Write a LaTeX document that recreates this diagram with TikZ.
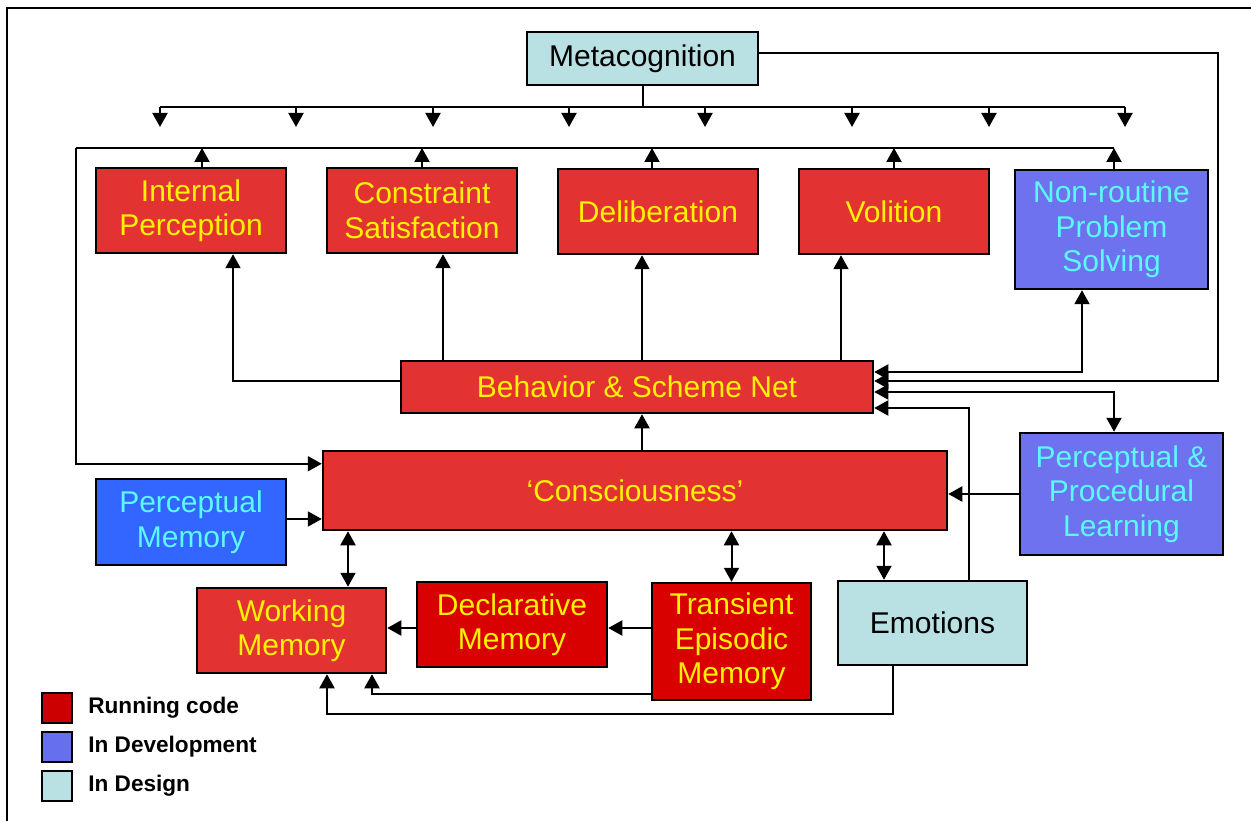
\documentclass[tikz,border=0pt]{standalone}
\usepackage{fontspec}
\usepackage{tikz}
\usetikzlibrary{calc, arrows.meta}
\newfontfamily\arialfont{Liberation Sans}
\definecolor{runred}{RGB}{227, 50, 50}
\definecolor{deepred}{RGB}{217, 0, 0}
\definecolor{devblue}{RGB}{110, 114, 238}
\definecolor{memblue}{RGB}{51, 102, 255}
\definecolor{designcyan}{RGB}{185, 224, 227}
\definecolor{textcyan}{RGB}{90, 250, 250}
\definecolor{keyred}{RGB}{204, 0, 0}
\definecolor{keyblue}{RGB}{102, 112, 238}

\begin{document}
\begin{tikzpicture}[x=1pt, y=-1pt, line width=2pt,
    box/.style={draw, line width=2.5pt, align=center, inner sep=0pt,
      font=\arialfont\fontsize{30}{34.5}\selectfont},
    runbox/.style={box, fill=runred, text=yellow},
    deepbox/.style={box, fill=deepred, text=yellow},
    devbox/.style={box, fill=devblue, text=textcyan},
    designbox/.style={box, fill=designcyan, text=black},
    arr/.style={-{Triangle[width=15pt, length=14pt]}},
    darr/.style={{Triangle[width=15pt, length=14pt]}-{Triangle[width=15pt, length=14pt]}},
    keybox/.style={draw, line width=1.5pt, minimum size=30pt, inner sep=0pt},
    keytext/.style={anchor=west, font=\arialfont\bfseries\fontsize{22.6}{26}\selectfont}]
  \useasboundingbox (0, 0) rectangle (1251, 821);
  \draw[line width=1.5pt] (7, 821) -- (7, 8) -- (1251, 8);

  % boxes
  \node[designbox, minimum width=231, minimum height=53] (meta) at (642.5, 58.5) {Metacognition};
  \node[runbox, minimum width=190, minimum height=85] (intp) at (191, 210.5) {Internal\\Perception};
  \node[runbox, minimum width=190, minimum height=85] (cons) at (422, 210.5) {Constraint\\Satisfaction};
  \node[runbox, minimum width=200, minimum height=85] (delib) at (658, 211.5) {Deliberation};
  \node[runbox, minimum width=190, minimum height=85] (vol) at (894, 211.5) {Volition};
  \node[devbox, minimum width=193, minimum height=119] (nonr) at (1111.5, 229.5) {Non-routine\\Problem\\Solving};
  \node[runbox, minimum width=472, minimum height=52] (bsn) at (637, 387) {Behavior \& Scheme Net};
  \node[runbox, minimum width=624, minimum height=79] (consc) at (635, 490.5) {‘Consciousness’};
  \node[box, fill=memblue, text=textcyan, minimum width=190, minimum height=86] (pmem) at (191, 522) {Perceptual\\Memory};
  \node[devbox, minimum width=203, minimum height=122] (ppl) at (1121.5, 494) {Perceptual \&\\Procedural\\Learning};
  \node[runbox, minimum width=189, minimum height=85] (wmem) at (291.5, 630.5) {Working\\Memory};
  \node[deepbox, minimum width=190, minimum height=85] (dmem) at (512, 624.5) {Declarative\\Memory};
  \node[deepbox, minimum width=159, minimum height=117] (tem) at (731.5, 641.5) {Transient\\Episodic\\Memory};
  \node[designbox, minimum width=189, minimum height=84] (emo) at (932.5, 623) {Emotions};

  % metacognition bus
  \coordinate (mbusL) at (160, 107);
  \coordinate (mbusR) at (1125, 107);
  \draw (meta.south) -- (meta.south |- mbusL);
  \draw (mbusL) -- (mbusR);
  \foreach \x [count=\i] in {160, 296, 433, 569, 705, 852, 989, 1125} {
    \coordinate (mtip\i) at (\x, 127);
    \draw[arr] (mtip\i |- mbusL) -- (mtip\i);
  }
  \draw[arr] ($(meta.east)+(0,-5)$) -| (1218, 381) -- ($(bsn.east)+(0,-6)$);

  % return bus into consciousness
  \coordinate (rbusL) at (76, 148);
  \coordinate (rbusR) at (1114, 148);
  \draw (rbusL) -- (rbusR);
  \foreach \n/\dx in {intp/11, cons/0, delib/-6, vol/0, nonr/2.5} {
    \coordinate (\n top) at ($(\n.north)+(\dx,0)$);
    \draw[arr] (\n top) -- (\n top |- rbusL);
  }
  \coordinate (cin) at ($(consc.north west)+(0,14)$);
  \draw[arr] (rbusL) |- (cin);

  % behavior net outputs
  \draw[arr] ($(bsn.west)+(0,-6)$) -| ($(intp.south)+(42,0)$);
  \coordinate (c1) at ($(cons.south)+(21,0)$);
  \coordinate (c2) at ($(delib.south)+(-16,0)$);
  \coordinate (c3) at ($(vol.south)+(-53,0)$);
  \foreach \c in {c1, c2, c3}
    \draw[arr] (bsn.north -| \c) -- (\c);
  \draw[darr] ($(bsn.east)+(0,-15)$) -| ($(nonr.south)+(-29.5,0)$);
  \draw[darr] ($(bsn.east)+(0,5)$) -| ($(ppl.north)+(-7.5,0)$);
  \draw[arr] ($(emo.north)+(36,0)$) |- ($(bsn.east)+(0,21)$);

  % consciousness links
  \coordinate (cup) at ($(consc.north)+(7,0)$);
  \draw[arr] (cup) -- (cup |- bsn.south);
  \draw[arr] (ppl.west) -- (ppl.west -| consc.east);
  \coordinate (pout) at ($(pmem.east)+(0,-3)$);
  \draw[arr] (pout) -- (pout -| consc.west);
  \coordinate (wtop) at ($(wmem.north)+(56.5,0)$);
  \coordinate (etop) at ($(emo.north)+(-48.5,0)$);
  \draw[darr] (wtop) -- (wtop |- consc.south);
  \draw[darr] (tem.north) -- (tem.north |- consc.south);
  \draw[darr] (etop) -- (etop |- consc.south);

  % memory links
  \coordinate (dout) at ($(dmem.west)+(0,3.5)$);
  \draw[arr] (dout) -- (dout -| wmem.east);
  \coordinate (din) at ($(dmem.east)+(0,3.5)$);
  \draw[arr] (din -| tem.west) -- (din);
  \draw[arr] ($(tem.south west)+(0,-7)$) -| ($(wmem.south)+(80.5,0)$);
  \draw[arr] ($(emo.south)+(-39.5,0)$) -- ++(0, 48) -| ($(wmem.south)+(35.5,0)$);

  % legend
  \node[keybox, fill=keyred] (krun) at (57, 708) {};
  \node[keybox, fill=keyblue] (kdev) at (57, 747) {};
  \node[keybox, fill=designcyan] (kdes) at (57, 786) {};
  \node[keytext] at (84, 708) {Running code};
  \node[keytext] at (84, 747) {In Development};
  \node[keytext] at (84, 786) {In Design};
\end{tikzpicture}
\end{document}
